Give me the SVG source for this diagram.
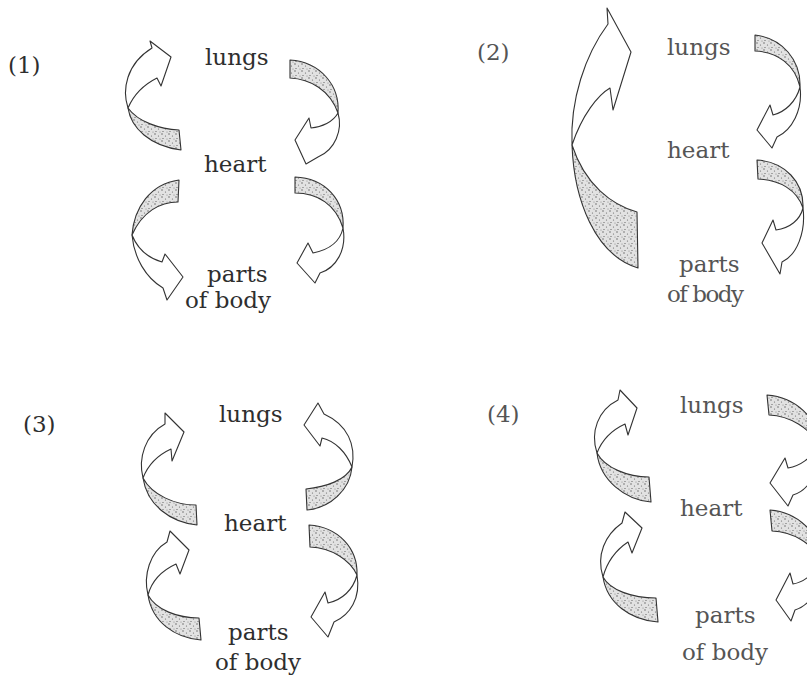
<svg xmlns="http://www.w3.org/2000/svg" width="807" height="682" viewBox="0 0 807 682">
<defs>
<pattern id="stip" width="7" height="7" patternUnits="userSpaceOnUse">
<rect width="7" height="7" fill="#e2e2e2"/>
<circle cx="1" cy="1" r="0.7" fill="#555"/>
<circle cx="4.5" cy="3" r="0.6" fill="#666"/>
<circle cx="2" cy="5.5" r="0.6" fill="#555"/>
<circle cx="6" cy="6" r="0.5" fill="#777"/>
</pattern>
<style>
.w{fill:#fff;stroke:#333;stroke-width:1.1;stroke-linejoin:round}
.s{fill:url(#stip);stroke:#333;stroke-width:1.1;stroke-linejoin:round}
text{font-family:"DejaVu Serif","Liberation Serif",serif;font-size:23px;fill:#2e2e2e}
.lt{fill:#555}
</style>
</defs>
<rect width="807" height="682" fill="#fff"/>

<g id="connectors">
<!-- diagram 1 -->
<g id="d1-arrow-tl"><path class="s" d="M128,108 C131,128 150,146 181,150 L179,130 C160,129 138,122 128,108 Z"/><path class="w" d="M128,108 C122,90 126,64 152,48 L150,41 L171,57 L161,86 L157,78 C145,84 134,94 128,108 Z"/></g>
<g id="d1-arrow-tr"><path class="s" d="M338,113 C340,85 320,62 290,60 L290,78 C310,79 330,90 338,113 Z"/><path class="w" d="M338,113 C343,130 335,150 318,157 L306,164 L295,140 L309,118 L311,128 C322,127 333,122 338,113 Z"/></g>
<g id="d1-arrow-bl"><path class="s" d="M132,235 C134,208 150,184 179,180 L178,202 C160,202 142,212 132,235 Z"/><path class="w" d="M132,235 C134,258 146,278 163,288 L167,300 L183,277 L165,254 L162,262 C148,258 138,250 132,235 Z"/></g>
<g id="d1-arrow-br"><path class="s" d="M343,228 C345,200 325,178 295,177 L295,193 C318,193 336,205 343,228 Z"/><path class="w" d="M343,228 C347,250 336,268 320,273 L315,283 L297,263 L308,243 L313,253 C328,250 340,242 343,228 Z"/></g>
<!-- diagram 2 -->
<g id="d2-arrow-l"><path class="s" d="M572,145 C574,200 595,255 638,268 L637,212 C612,205 585,185 572,145 Z"/><path class="w" d="M572,145 C570,100 585,55 608,24 L607,8 L631,52 L613,110 L610,88 C598,95 582,115 572,145 Z"/></g>
<g id="d2-arrow-tr"><path class="s" d="M800,87 C801,60 782,38 755,35 L755,51 C778,52 795,65 800,87 Z"/><path class="w" d="M800,87 C803,110 792,130 777,137 L772,148 L757,130 L770,105 L773,115 C785,112 796,102 800,87 Z"/></g>
<g id="d2-arrow-br"><path class="s" d="M803,208 C804,182 785,162 757,160 L758,179 C780,180 797,190 803,208 Z"/><path class="w" d="M803,208 C806,232 797,255 782,262 L780,274 L762,243 L773,220 L776,230 C790,228 800,220 803,208 Z"/></g>
<!-- diagram 3 -->
<g id="d3-arrow-tl"><path class="s" d="M143,478 C147,505 170,522 197,525 L196,505 C175,505 152,495 143,478 Z"/><path class="w" d="M143,478 C138,458 145,435 165,424 L165,413 L184,432 L172,461 L171,449 C158,455 148,465 143,478 Z"/></g>
<g id="d3-arrow-bl"><path class="s" d="M148,595 C152,622 175,638 201,640 L199,618 C178,618 156,610 148,595 Z"/><path class="w" d="M148,595 C143,575 150,552 167,542 L170,531 L189,550 L180,574 L176,564 C163,570 152,580 148,595 Z"/></g>
<g id="d3-arrow-tr"><path class="s" d="M352,467 C350,490 330,508 307,510 L306,489 C326,487 346,480 352,467 Z"/><path class="w" d="M352,467 C356,445 348,425 324,414 L318,403 L304,425 L320,446 L322,438 C335,441 346,452 352,467 Z"/></g>
<g id="d3-arrow-br"><path class="s" d="M357,575 C358,548 338,527 309,525 L310,547 C332,548 350,560 357,575 Z"/><path class="w" d="M357,575 C361,598 350,615 334,622 L328,637 L311,617 L325,592 L328,603 C342,600 353,590 357,575 Z"/></g>
<!-- diagram 4 -->
<g id="d4-arrow-tl"><path class="s" d="M597,453 C600,480 625,500 651,502 L649,477 C628,477 605,468 597,453 Z"/><path class="w" d="M597,453 C590,432 598,410 618,400 L620,390 L637,408 L628,435 L625,424 C612,430 602,440 597,453 Z"/></g>
<g id="d4-arrow-bl"><path class="s" d="M603,577 C607,603 630,620 658,622 L656,598 C632,598 610,590 603,577 Z"/><path class="w" d="M603,577 C596,555 605,535 622,523 L625,512 L642,528 L632,553 L628,542 C616,550 607,562 603,577 Z"/></g>
<g id="d4-arrow-tr"><path class="s" d="M818,445 C819,418 795,397 767,395 L769,415 C790,416 810,428 818,445 Z"/><path class="w" d="M818,445 C820,470 810,490 793,495 L788,506 L770,483 L785,458 L788,468 C800,466 812,458 818,445 Z"/></g>
<g id="d4-arrow-br"><path class="s" d="M820,560 C821,533 797,512 770,510 L772,531 C793,532 812,543 820,560 Z"/><path class="w" d="M820,560 C822,585 812,605 795,610 L791,621 L776,600 L790,573 L793,584 C805,582 815,573 820,560 Z"/></g>
</g>

<g id="label-1"><text x="8" y="73">(1)</text></g>
<g id="d1-lungs"><text x="205" y="65">lungs</text></g>
<g id="d1-heart"><text x="204" y="172">heart</text></g>
<g id="d1-parts"><text x="207" y="282">parts</text><text x="185" y="308">of body</text></g>

<g id="label-2"><text class="lt" x="477" y="60">(2)</text></g>
<g id="d2-lungs"><text class="lt" x="667" y="55">lungs</text></g>
<g id="d2-heart"><text class="lt" x="667" y="158">heart</text></g>
<g id="d2-parts"><text class="lt" x="679" y="272">parts</text><text class="lt" x="667" y="302" textLength="77">of body</text></g>

<g id="label-3"><text x="23" y="432">(3)</text></g>
<g id="d3-lungs"><text x="219" y="422">lungs</text></g>
<g id="d3-heart"><text x="224" y="531">heart</text></g>
<g id="d3-parts"><text x="228" y="640">parts</text><text x="215" y="670">of body</text></g>

<g id="label-4"><text class="lt" x="487" y="422">(4)</text></g>
<g id="d4-lungs"><text class="lt" x="680" y="413">lungs</text></g>
<g id="d4-heart"><text class="lt" x="680" y="516">heart</text></g>
<g id="d4-parts"><text class="lt" x="695" y="623">parts</text><text class="lt" x="682" y="660">of body</text></g>
</svg>
